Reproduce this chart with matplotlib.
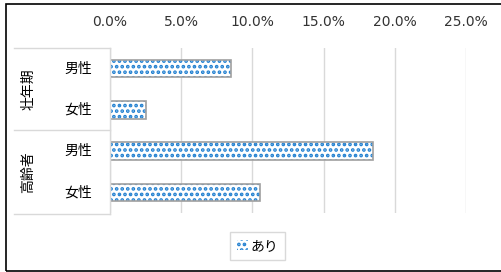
import matplotlib.pyplot as plt
from matplotlib.patches import Rectangle, Patch
from matplotlib.lines import Line2D
import matplotlib.transforms as mtransforms

plt.rcParams['font.family'] = ['DejaVu Sans', 'Noto Sans CJK JP']
plt.rcParams['hatch.linewidth'] = 1.8

#Data
groups = ["壮年期", "高齢者"]
sexes = ["男性", "女性", "男性", "女性"]
values = [8.5, 2.5, 18.5, 10.5]
xticks = [0, 5, 10, 15, 20, 25]
series_name = "あり"

W, H = 501, 272
blue = "#1f7fd0"
grey = "#a0a0a0"
grid_col = "#d9d9d9"
jp = ['Noto Sans CJK JP', 'DejaVu Sans']

fig = plt.figure(figsize=(W / 100, H / 100), dpi=100)
ax = fig.add_axes([110 / W, 1 - 213 / H, 356 / W, 165 / H])

pos = list(range(len(values)))
# hatch drawn in blue, border drawn separately in grey
ax.barh(pos, values, height=0.42, color="white", edgecolor=blue, linewidth=0, hatch="...", zorder=2)
ax.barh(pos, values, height=0.42, fill=False, edgecolor=grey, linewidth=1.2, zorder=3)

ax.set_xlim(0, 25)
ax.set_ylim(len(values) - 0.5, -0.5)
ax.set_xticks(xticks)
ax.set_xticklabels([f"{t:.1f}%" for t in xticks], fontsize=10, color="#333333")
ax.xaxis.tick_top()
ax.tick_params(axis="x", length=0, pad=14)
ax.set_yticks([])
ax.grid(axis="x", color=grid_col, linewidth=1)
ax.set_axisbelow(True)
for s in ax.spines.values():
    s.set_visible(False)

# category labels (two levels)
tr = mtransforms.blended_transform_factory(fig.transFigure, ax.transData)
for i, s in enumerate(sexes):
    ax.text(78 / W, i, s, transform=tr, ha="center", va="center", fontsize=10, family=jp)
for g, name in enumerate(groups):
    ax.text(28 / W, 2 * g + 0.5, name, transform=tr, ha="center", va="center",
            rotation=90, fontsize=10, family=jp)

# label box lines
for y in [48, 130, 214]:
    fig.add_artist(Line2D([14 / W, 110 / W], [1 - y / H, 1 - y / H], color=grid_col, linewidth=1))
fig.add_artist(Line2D([110 / W, 110 / W], [1 - 48 / H, 1 - 214 / H], color=grid_col, linewidth=1))

# outer border
fig.add_artist(Rectangle((6 / W, 1 - 271 / H), 520 / W, 267 / H, fill=False,
                         edgecolor="black", linewidth=1.2, transform=fig.transFigure))

handle = Patch(facecolor="white", edgecolor=blue, hatch="...", linewidth=0)
leg = fig.legend([handle], [series_name], loc="center", bbox_to_anchor=(257.5 / W, 1 - 246 / H),
                 prop={'family': jp, 'size': 10}, handlelength=0.8, handleheight=0.8,
                 handletextpad=0.2, borderpad=0.5, fancybox=False, edgecolor=grid_col, framealpha=1)
leg.get_frame().set_linewidth(1)

fig.savefig("out.png", dpi=100)
